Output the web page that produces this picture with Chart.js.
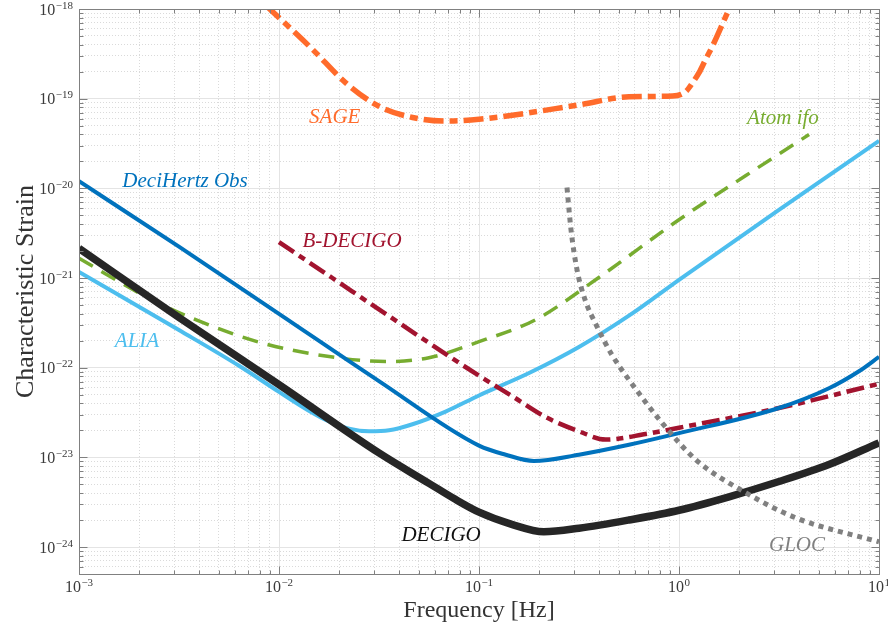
<!DOCTYPE html>
<html>
<head>
<meta charset="utf-8">
<script src="https://cdn.jsdelivr.net/npm/chart.js@4.4.1/dist/chart.umd.min.js"></script>
<style>html,body{margin:0;padding:0;background:#fff}canvas{display:block}</style>
</head>
<body>
<canvas id="c" width="888" height="629"></canvas>
<script>
// ---- data (frequency in Hz, characteristic strain) ----
const decigoF = [0.001, 0.00316, 0.01, 0.0316, 0.0562, 0.075, 0.1, 0.147, 0.211, 0.316, 0.562, 1, 1.78, 3.16, 5.62, 10];
const decigoH = [2.14e-21, 3.63e-22, 6.46e-23, 1.12e-23, 5.13e-24, 3.47e-24, 2.45e-24, 1.78e-24, 1.48e-24, 1.62e-24, 2.0e-24, 2.57e-24, 3.63e-24, 5.37e-24, 8.32e-24, 1.45e-23];

const deciHzF = [0.001, 0.00316, 0.01, 0.0316, 0.1, 0.136, 0.188, 0.316, 0.562, 1, 3.16, 5.62, 7.94, 10];
const deciHzH = [1.2e-20, 2.24e-21, 3.98e-22, 7.08e-23, 1.35e-23, 1.07e-23, 9.1e-24, 1.07e-23, 1.38e-23, 1.86e-23, 3.55e-23, 5.89e-23, 9.12e-23, 1.32e-22];

const aliaF = [0.001, 0.00316, 0.00631, 0.01, 0.0141, 0.0178, 0.0224, 0.0282, 0.0355, 0.0465, 0.0681, 0.1, 0.178, 0.316, 0.562, 1, 3.16, 10];
const aliaH = [1.17e-21, 2.63e-22, 1.05e-22, 5.37e-23, 3.31e-23, 2.51e-23, 2.09e-23, 1.95e-23, 2.0e-23, 2.34e-23, 3.24e-23, 4.9e-23, 8.71e-23, 1.7e-22, 3.8e-22, 9.55e-22, 5.75e-21, 3.39e-20];

const atomF = [0.001, 0.00215, 0.00383, 0.00826, 0.0178, 0.0341, 0.0562, 0.1, 0.192, 0.383, 1, 2.15, 4.47];
const atomH = [1.66e-21, 6.24e-22, 3.43e-22, 1.88e-22, 1.33e-22, 1.17e-22, 1.29e-22, 1.95e-22, 3.43e-22, 9.55e-22, 4.47e-21, 1.38e-20, 3.98e-20];

const bdecigoF = [0.01, 0.0185, 0.0316, 0.1, 0.147, 0.215, 0.316, 0.43, 0.681, 1, 3.16, 10];
const bdecigoH = [2.51e-21, 1.0e-21, 4.47e-22, 8.13e-23, 4.79e-23, 2.82e-23, 1.95e-23, 1.58e-23, 1.82e-23, 2.14e-23, 3.55e-23, 6.61e-23];

const sageF = [0.00851, 0.0147, 0.0215, 0.0316, 0.0465, 0.0681, 0.1, 0.316, 0.562, 0.927, 1.08, 1.17, 1.26, 1.36, 1.47, 1.78, 1.91];
const sageH = [1.12e-18, 3.55e-19, 1.51e-19, 8.22e-20, 6.17e-20, 5.62e-20, 5.89e-20, 8.51e-20, 1.05e-19, 1.07e-19, 1.2e-19, 1.51e-19, 1.95e-19, 2.75e-19, 3.85e-19, 1.0e-18, 1.41e-18];

const glocF = [0.2754, 0.2884, 0.309, 0.339, 0.385, 0.462, 0.562, 0.822, 1.216, 2.163, 3.846, 10];
const glocH = [1.02e-20, 3.46e-21, 1.24e-21, 5.73e-22, 3.01e-22, 1.39e-22, 7.33e-23, 2.43e-23, 9.38e-24, 4.02e-24, 2.11e-24, 1.14e-24];

// axis ranges and tick decades
const xMin = 1e-3, xMax = 10;
const yMin = 5e-25, yMax = 1e-18;
const xDecades = [-3, -2, -1, 0, 1];
const yDecades = [-24, -23, -22, -21, -20, -19, -18];

// curve labels (text, anchor frequency, anchor strain)
const labelText = ['SAGE', 'DeciHertz Obs', 'B-DECIGO', 'Atom ifo', 'ALIA', 'DECIGO', 'GLOC'];
const labelF    = [0.0190, 0.00339, 0.0232, 3.31, 0.00195, 0.0646, 3.89];
const labelH    = [6.15e-20, 1.19e-20, 2.54e-21, 6.0e-20, 1.95e-22, 1.33e-24, 1.05e-24];

// ---- styles ----
const labelColors = ['#FF6B2B', '#0072BD', '#A2142F', '#77AC30', '#4DBEEE', '#111111', '#808080'];

function pts(f, h) { return f.map((v, i) => ({x: v, y: h[i]})); }
function minorVals(minV, maxV) {
  const out = [];
  const e0 = Math.floor(Math.log10(minV)), e1 = Math.ceil(Math.log10(maxV));
  for (let e = e0; e <= e1; e++) {
    for (let m = 1; m <= 9; m++) {
      const v = m * Math.pow(10, e);
      if (v >= minV * 0.999999 && v <= maxV * 1.000001) out.push(v);
    }
  }
  return out;
}
const xTickVals = minorVals(xMin, xMax);
const yTickVals = minorVals(yMin, yMax);
function isMajor(v) { const l = Math.log10(v); return Math.abs(l - Math.round(l)) < 1e-6; }

const FONT = '"Liberation Serif", "Times New Roman", serif';

const decor = {
  id: 'decor',
  afterDraw(chart) {
    const ctx = chart.ctx, a = chart.chartArea, xs = chart.scales.x, ys = chart.scales.y;
    const L = Math.round(a.left) + 0.5, R = Math.round(a.right) + 0.5;
    const T = Math.round(a.top) + 0.5, B = Math.round(a.bottom) + 0.5;
    ctx.save();
    // box
    ctx.strokeStyle = '#808080';
    ctx.lineWidth = 1;
    ctx.strokeRect(L, T, R - L, B - T);
    // inward ticks
    ctx.beginPath();
    xTickVals.forEach(v => {
      const p = Math.round(xs.getPixelForValue(v)) + 0.5;
      const len = isMajor(v) ? 8 : 4;
      ctx.moveTo(p, B); ctx.lineTo(p, B - len);
      ctx.moveTo(p, T); ctx.lineTo(p, T + len);
    });
    yTickVals.forEach(v => {
      const p = Math.round(ys.getPixelForValue(v)) + 0.5;
      const len = isMajor(v) ? 8 : 4;
      ctx.moveTo(L, p); ctx.lineTo(L + len, p);
      ctx.moveTo(R, p); ctx.lineTo(R - len, p);
    });
    ctx.stroke();

    // tick labels 10^n
    ctx.fillStyle = '#3a3a3a';
    ctx.textBaseline = 'alphabetic';
    ctx.textAlign = 'left';
    function pow(exp, x, yb, align) {
      const base = '10', sup = (exp < 0 ? '\u2212' : '') + Math.abs(exp);
      ctx.font = '16px ' + FONT; const w1 = ctx.measureText(base).width;
      ctx.font = '11px ' + FONT; const w2 = ctx.measureText(sup).width;
      const x0 = align === 'right' ? x - w1 - w2 - 0.5 : x - (w1 + w2 + 0.5) / 2;
      ctx.font = '16px ' + FONT; ctx.fillText(base, x0, yb);
      ctx.font = '11px ' + FONT; ctx.fillText(sup, x0 + w1 + 0.5, yb - 6);
    }
    yDecades.forEach(e => {
      const p = ys.getPixelForValue(Math.pow(10, e));
      pow(e, a.left - 6, p + 5.5, 'right');
    });
    xDecades.forEach(e => {
      const p = xs.getPixelForValue(Math.pow(10, e));
      pow(e, p, a.bottom + 18, 'center');
    });

    // axis titles
    ctx.fillStyle = '#333333';
    ctx.font = '24px ' + FONT;
    ctx.textAlign = 'center';
    ctx.fillText('Frequency [Hz]', (a.left + a.right) / 2, 617);
    ctx.save();
    ctx.font = '26px ' + FONT;
    ctx.translate(33, (a.top + a.bottom) / 2);
    ctx.rotate(-Math.PI / 2);
    ctx.fillText('Characteristic Strain', 0, 0);
    ctx.restore();

    // curve labels
    ctx.font = 'italic 21px ' + FONT;
    ctx.textAlign = 'center';
    ctx.textBaseline = 'middle';
    labelText.forEach((t, i) => {
      ctx.fillStyle = labelColors[i];
      ctx.fillText(t, xs.getPixelForValue(labelF[i]), ys.getPixelForValue(labelH[i]));
    });
    ctx.restore();
  }
};

function ds(label, f, h, color, width, dash) {
  return {
    label, data: pts(f, h), showLine: true, borderColor: color, backgroundColor: color,
    borderWidth: width, borderDash: dash, borderCapStyle: 'butt', borderJoinStyle: 'round',
    pointRadius: 0, pointHoverRadius: 0, cubicInterpolationMode: 'monotone', fill: false, clip: 0
  };
}

const gridCfg = {
  drawTicks: false,
  lineWidth: 1,
  color: c => (c.tick && isMajor(c.tick.value)) ? '#e4e4e4' : '#dadada'
};
const borderCfg = {
  display: false,
  dash: c => (c.tick && isMajor(c.tick.value)) ? [] : [1, 2]
};

new Chart(document.getElementById('c'), {
  type: 'scatter',
  data: {
    datasets: [
      ds('GLOC', glocF, glocH, '#808080', 5, [5, 5]),
      ds('DECIGO', decigoF, decigoH, '#262626', 7.5, []),
      ds('DeciHertz Obs', deciHzF, deciHzH, '#0072BD', 4, []),
      ds('B-DECIGO', bdecigoF, bdecigoH, '#A2142F', 4.5, [18, 6, 7, 6]),
      ds('ALIA', aliaF, aliaH, '#4DBEEE', 4, []),
      ds('Atom ifo', atomF, atomH, '#77AC30', 3.5, [16, 10]),
      ds('SAGE', sageF, sageH, '#FF6B2B', 5.5, [20, 6, 8, 6])
    ]
  },
  options: {
    responsive: false,
    devicePixelRatio: 1,
    animation: false,
    events: [],
    layout: { padding: { left: 0, right: 9, top: 9, bottom: 0 } },
    plugins: { legend: { display: false }, tooltip: { enabled: false }, title: { display: false } },
    scales: {
      x: {
        type: 'logarithmic', min: xMin, max: xMax,
        afterBuildTicks: s => { s.ticks = xTickVals.map(v => ({value: v})); },
        afterFit: s => { s.height = 55; },
        ticks: { display: false },
        grid: gridCfg, border: borderCfg
      },
      y: {
        type: 'logarithmic', min: yMin, max: yMax,
        afterBuildTicks: s => { s.ticks = yTickVals.map(v => ({value: v})); },
        afterFit: s => { s.width = 79; },
        ticks: { display: false },
        grid: gridCfg, border: borderCfg
      }
    }
  },
  plugins: [decor]
});
</script>
</body>
</html>
